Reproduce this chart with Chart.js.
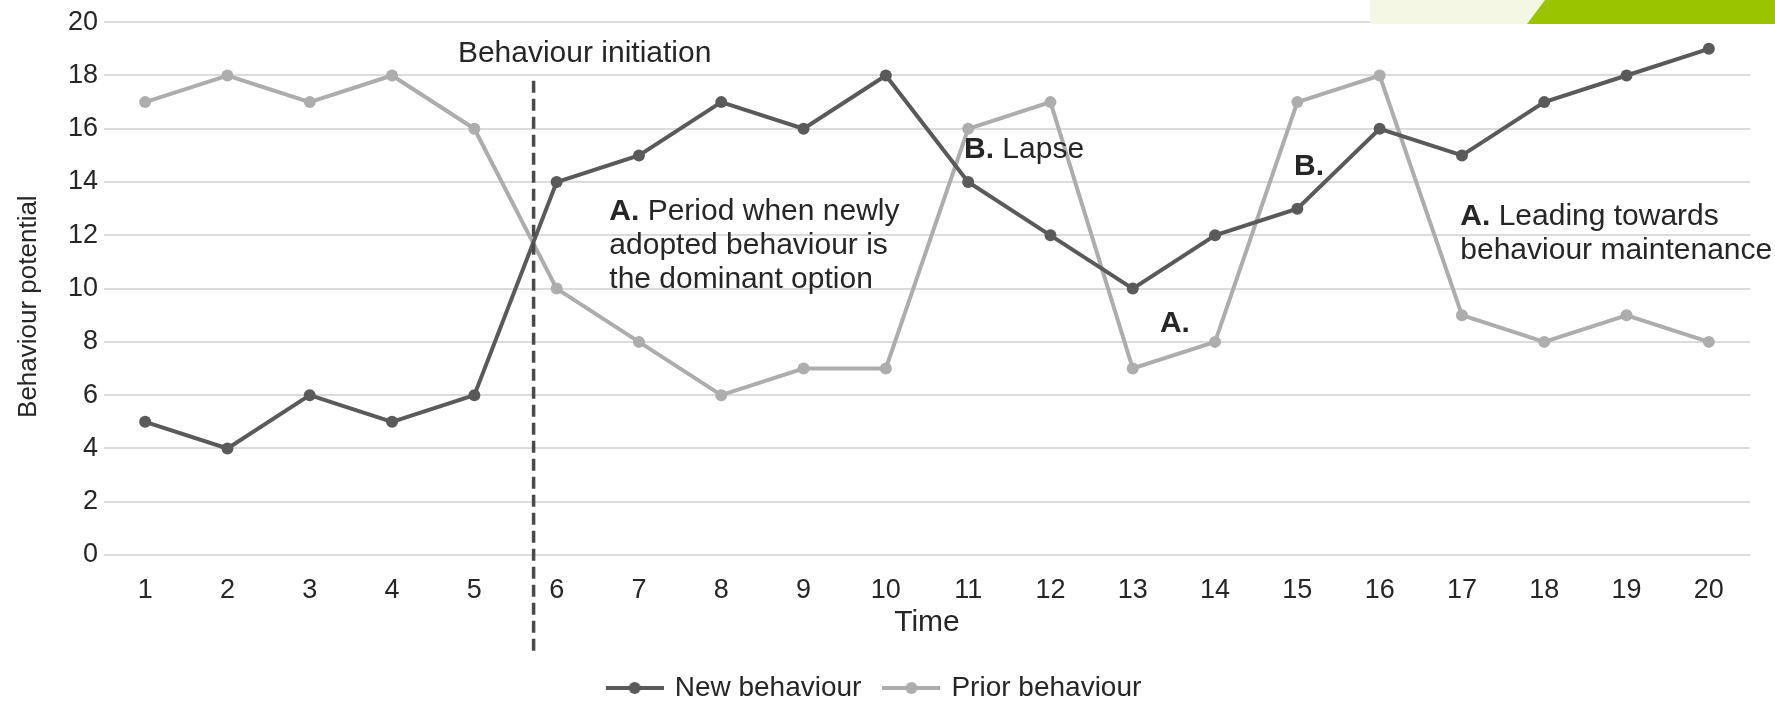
<!DOCTYPE html>
<html>
<head>
<meta charset="utf-8">
<script src="https://cdn.jsdelivr.net/npm/chart.js@4.4.1/dist/chart.umd.min.js"></script>
<style>
  html, body { margin: 0; padding: 0; background: #fff; }
  #wrap { width: 1775px; height: 712px; }
</style>
</head>
<body>
<div id="wrap"><canvas id="chart"></canvas></div>
<script>
// data
const timeLabels = ['1','2','3','4','5','6','7','8','9','10','11','12','13','14','15','16','17','18','19','20'];
const newBehaviour = [5, 4, 6, 5, 6, 14, 15, 17, 16, 18, 14, 12, 10, 12, 13, 16, 15, 17, 18, 19];
const priorBehaviour = [17, 18, 17, 18, 16, 10, 8, 6, 7, 7, 16, 17, 7, 8, 17, 18, 9, 8, 9, 8];

// annotations placed in data units (x = category index, y = value)
const initiationX = 4.72;
const initiationTop = 17.8;
const notes = [
  { x: 3.80, y: 18.8, bold: '', lines: ['Behaviour initiation'] },
  { x: 9.95, y: 15.2, bold: 'B.', lines: [' Lapse'] },
  { x: 5.64, y: 12.87, bold: 'A.', lines: [' Period when newly', 'adopted behaviour is', 'the dominant option'] },
  { x: 12.33, y: 8.69, bold: 'A.', lines: [''] },
  { x: 13.96, y: 14.59, bold: 'B.', lines: [''] },
  { x: 15.98, y: 12.69, bold: 'A.', lines: [' Leading towards', 'behaviour maintenance'] }
];

const FONT = "'Liberation Sans', Arial, Helvetica, sans-serif";
const DARK = '#5a5a5a';
const LIGHT = '#adadad';
const TEXT = '#262626';

function legendMark(color) {
  const c = document.createElement('canvas');
  c.width = 58; c.height = 14;
  const g = c.getContext('2d');
  g.strokeStyle = color; g.lineWidth = 4;
  g.beginPath(); g.moveTo(0, 7); g.lineTo(58, 7); g.stroke();
  g.fillStyle = color;
  g.beginPath(); g.arc(29, 7, 6, 0, Math.PI * 2); g.fill();
  return c;
}

const notesPlugin = {
  id: 'notes',
  afterDatasetsDraw(chart) {
    const { ctx } = chart;
    const xs = chart.scales.x, ys = chart.scales.y;
    ctx.save();
    // dashed initiation line, runs down past the axis
    const lx = xs.getPixelForValue(initiationX);
    ctx.strokeStyle = '#4a4a4a';
    ctx.lineWidth = 3.5;
    ctx.setLineDash([12, 6]);
    ctx.beginPath();
    ctx.moveTo(lx, ys.getPixelForValue(initiationTop));
    ctx.lineTo(lx, 651);
    ctx.stroke();
    ctx.setLineDash([]);

    ctx.fillStyle = TEXT;
    ctx.textBaseline = 'middle';
    ctx.textAlign = 'left';
    notes.forEach(n => {
      let x = xs.getPixelForValue(n.x);
      let y = ys.getPixelForValue(n.y);
      n.lines.forEach((line, i) => {
        let cx = x;
        if (i === 0 && n.bold) {
          ctx.font = 'bold 30px ' + FONT;
          ctx.fillText(n.bold, cx, y);
          cx += ctx.measureText(n.bold).width;
        }
        ctx.font = '30px ' + FONT;
        ctx.fillText(line, cx, y + i * 34);
      });
    });
    ctx.restore();
  },
  afterDraw(chart) {
    // page corner decoration
    const { ctx } = chart;
    ctx.save();
    ctx.fillStyle = '#f4f7e4';
    ctx.fillRect(1370, 0, 180, 24);
    ctx.fillStyle = '#9bc400';
    ctx.beginPath();
    ctx.moveTo(1545, 0); ctx.lineTo(1775, 0); ctx.lineTo(1775, 24); ctx.lineTo(1527, 24);
    ctx.closePath(); ctx.fill();
    ctx.restore();
  }
};

new Chart(document.getElementById('chart'), {
  type: 'line',
  data: {
    labels: timeLabels,
    datasets: [
      { label: 'New behaviour', data: newBehaviour, borderColor: DARK, backgroundColor: DARK,
        borderWidth: 4, pointRadius: 6, pointBackgroundColor: DARK, pointBorderWidth: 0,
        pointStyle: 'circle', tension: 0 },
      { label: 'Prior behaviour', data: priorBehaviour, borderColor: LIGHT, backgroundColor: LIGHT,
        borderWidth: 4, pointRadius: 6, pointBackgroundColor: LIGHT, pointBorderWidth: 0,
        pointStyle: 'circle', tension: 0 }
    ]
  },
  options: {
    responsive: true,
    maintainAspectRatio: false,
    animation: false,
    layout: { autoPadding: false, padding: { top: 15, right: 25, left: 0, bottom: 0 } },
    plugins: {
      tooltip: { enabled: false },
      legend: {
        position: 'bottom',
        labels: {
          color: TEXT,
          font: { family: FONT, size: 28 },
          usePointStyle: true,
          pointStyleWidth: 52,
          padding: 24,
          generateLabels(chart) {
            return chart.data.datasets.map((ds, i) => ({
              text: ds.label,
              pointStyle: legendMark(ds.borderColor),
              fontColor: TEXT,
              lineWidth: 0,
              strokeStyle: 'transparent',
              fillStyle: ds.borderColor,
              hidden: false,
              datasetIndex: i
            }));
          }
        }
      }
    },
    scales: {
      x: {
        offset: true,
        grid: { display: false },
        border: { display: false },
        ticks: { color: TEXT, font: { family: FONT, size: 27 }, padding: 11, maxRotation: 0 },
        title: { display: true, text: 'Time', color: TEXT, font: { family: FONT, size: 30 },
                 padding: { top: 0, bottom: 9 } },
        afterFit(scale) { scale.height = 95; }
      },
      y: {
        min: 0, max: 20,
        grid: { color: '#dcdcdc', lineWidth: 2, drawTicks: false },
        border: { display: false },
        ticks: { stepSize: 2, color: TEXT, font: { family: FONT, size: 27 }, padding: 6 },
        title: { display: true, text: 'Behaviour potential\u00a0\u00a0\u00a0\u00a0\u00a0', color: TEXT,
                 font: { family: FONT, size: 26 }, padding: { top: 13, bottom: 0 } },
        afterFit(scale) { scale.width = 104; }
      }
    }
  },
  plugins: [notesPlugin]
});
</script>
</body>
</html>
